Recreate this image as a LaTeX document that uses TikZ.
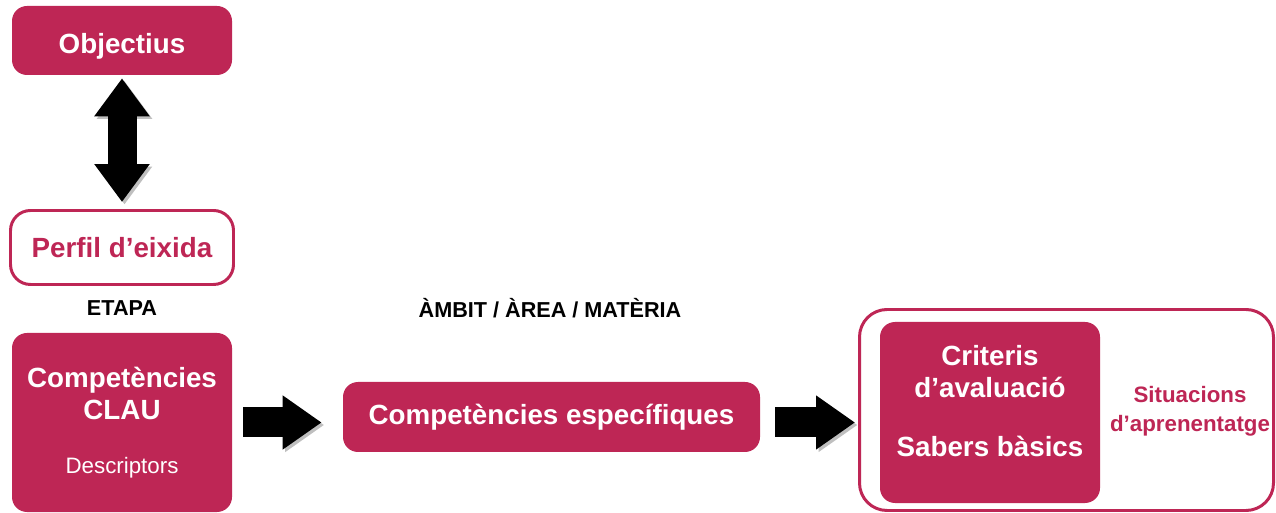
\documentclass[tikz,border=0pt]{standalone}
\usepackage{fontspec}
\setmainfont{Liberation Sans}
\usepackage{xcolor}
\usepackage{tikz}
\usetikzlibrary{positioning,calc,arrows.meta}
\definecolor{crimson}{RGB}{190,38,85}

\begin{document}
\begin{tikzpicture}[
    fillbox/.style={fill=crimson, rounded corners=0.3cm, text=white, align=center, inner sep=0pt,
        font=\fontsize{15.8}{18.1}\selectfont\bfseries},
    linebox/.style={draw=crimson, line width=1.7pt, fill=white, rounded corners=0.4cm, inner sep=0pt},
    heading/.style={font=\fontsize{12.3}{14}\selectfont\bfseries},
    bigarrow/.style={line width=0.6cm, -{Triangle[width=1.03cm,length=0.78cm]},
        preaction={draw=black!25, transform canvas={shift={(0.05cm,-0.05cm)}}}}
]
    \useasboundingbox (0,0) rectangle (25.52,-10.26);

    % Etapa
    \node[fillbox, minimum width=4.4cm, minimum height=1.38cm, text height=15pt, text depth=0pt] (obj) at (2.44,-0.81) {Objectius};
    \node[linebox, minimum width=4.46cm, minimum height=1.48cm, text=crimson,
        font=\fontsize{15.8}{18.1}\selectfont\bfseries] (perfil) at (2.44,-4.95) {Perfil d’eixida};
    \node[heading] (etapa) at (2.44,-6.16) {ETAPA};
    \node[fillbox, minimum width=4.4cm, minimum height=3.58cm] (clau) at (2.44,-8.45)
        {Competències\\CLAU\\[12.5pt]{\fontsize{12.7}{15.2}\selectfont\mdseries Descriptors}};

    % Ambit / area / materia
    \node[heading] (ambit) at (11.0,-6.16) {ÀMBIT / ÀREA / MATÈRIA};
    \node[fillbox, minimum width=8.34cm, minimum height=1.4cm] (espec) at (11.03,-8.34) {Competències específiques};

    % Criteris, sabers i situacions
    \node[linebox, minimum width=8.28cm, minimum height=4.02cm, rounded corners=0.55cm] (outer) at (21.33,-8.2) {};
    \node[fillbox, minimum width=4.4cm, minimum height=3.62cm] (crit) at (19.8,-8.25) {};
    \node[fillbox, fill=none] (crittxt) at (19.8,-8.02) {Criteris\\d’avaluació\\[15.3pt]Sabers bàsics};
    \node[text=crimson, align=center, font=\fontsize{12.7}{16.4}\selectfont\bfseries] (sit) at (23.8,-8.23)
        {Situacions\\d’aprenentatge};

    % Fletxes
    \draw[bigarrow, line width=0.58cm, {Triangle[width=1.06cm,length=0.76cm]}-{Triangle[width=1.06cm,length=0.76cm]},
        shorten <=0.06cm, shorten >=0.14cm] (obj.south) -- (perfil.north);
    \draw[bigarrow, shorten <=0.22cm, shorten >=0.42cm] (clau.east) -- (clau.east -| espec.west);
    \draw[bigarrow, shorten <=0.3cm, shorten >=0.06cm] (espec.east |- clau.east) -- (outer.west |- clau.east);
\end{tikzpicture}
\end{document}
